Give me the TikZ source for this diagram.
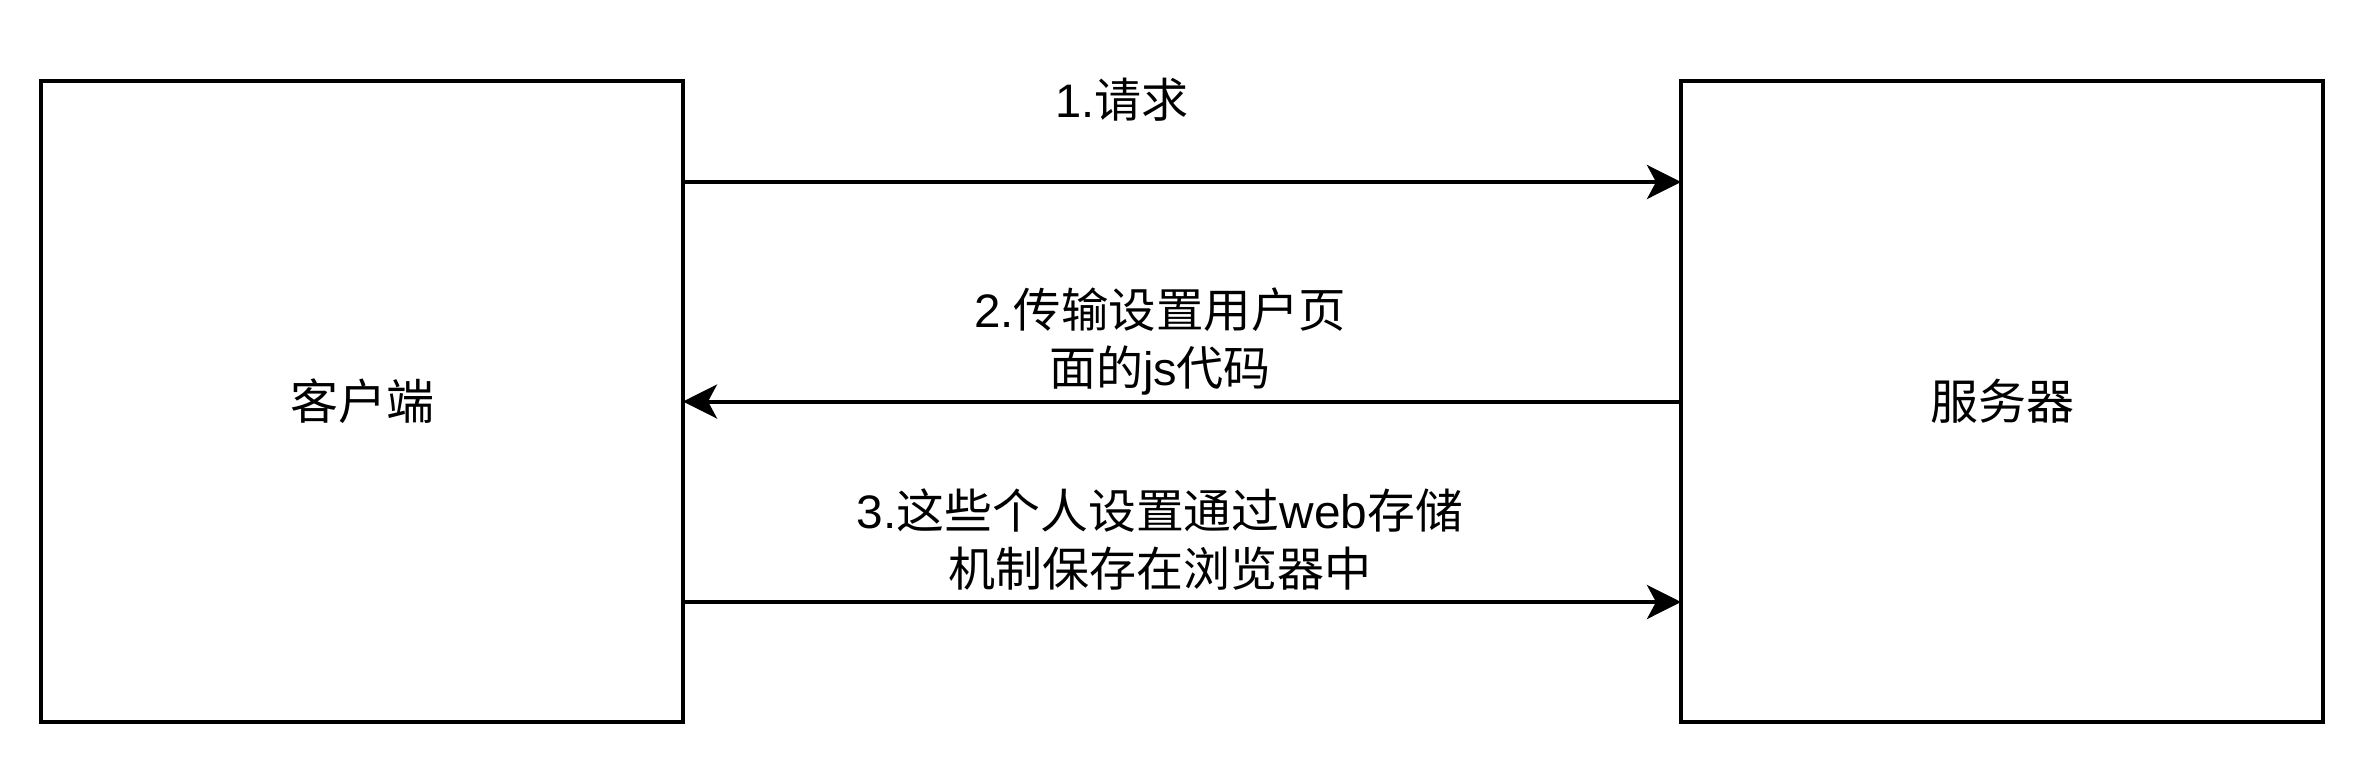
\documentclass[tikz,border=0pt]{standalone}
\usepackage{graphicx}
\usepackage{fontspec}
\setmainfont{Liberation Sans}
\newfontfamily\cjk{Noto Sans CJK SC}
\usetikzlibrary{arrows.meta}
\begin{document}
\begin{tikzpicture}[x=1pt,y=-1pt,
  box/.style={draw, line width=4pt, minimum width=642pt, minimum height=641pt, inner sep=0pt, outer sep=0pt, font=\cjk\fontsize{48}{58}\selectfont},
  lbl/.style={inner sep=0pt, align=center, font=\fontsize{47}{58}\selectfont},
  arr/.style={line width=4pt, -{Stealth[length=34pt,width=34pt,inset=9pt]}}]
\useasboundingbox (0,0) rectangle (2364,764);
\node[box] (L) at (362,401.5) {客户端};
\node[box] (R) at (2002,401.5) {服务器};
\draw[arr] (L.east |- 0,182) -- (R.west |- 0,182);
\draw[arr] (R.west) -- (L.east);
\draw[arr] (L.east |- 0,602) -- (R.west |- 0,602);
\node[lbl] (t1) at (1122,100) {1.{\cjk 请求}};
\node[lbl] (t2) at (1160,342) {\resizebox{372pt}{\height}{2.{\cjk 传输设置用户页}}\\{\cjk 面的}js{\cjk 代码}};
\node[lbl] (t3) at (1160,540) {\resizebox{606pt}{\height}{3.{\cjk 这些个人设置通过}web{\cjk 存储}}\\{\cjk 机制保存在浏览器中}};
\end{tikzpicture}
\end{document}
